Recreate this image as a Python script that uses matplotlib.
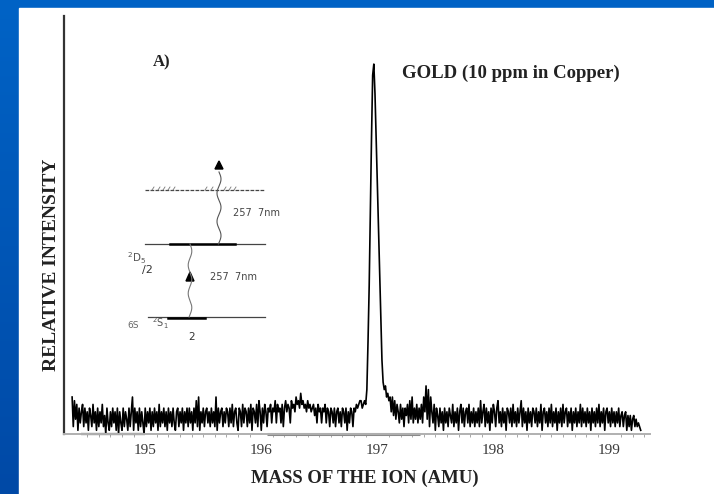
import numpy as np
import matplotlib.pyplot as plt
from matplotlib.patches import Rectangle, Polygon
from matplotlib.colors import LinearSegmentedColormap

# relative intensity (peak = 100), one reading every 0.01 amu
intensity = [
    # 194.37 - 194.86
    10, 2, 9, 4, 8, 1, 7, 3, 6, 8,
    2, 7, 3, 6, 1, 7, 5, 2, 8, 3,
    6, 1, 7, 2, 6, 3, 8, 2, 5, 0,
    7, 3, 1, 6, 2, 7, 3, 6, 1, 7,
    0, 6, 3, 1, 7, 2, 6, 4, 1, 7,
    # 194.87 - 195.36
    2, 6, 10, 1, 7, 3, 6, 1, 7, 2,
    6, 3, 0, 7, 2, 6, 3, 7, 1, 6,
    2, 7, 3, 6, 1, 8, 2, 6, 3, 7,
    2, 6, 1, 7, 3, 6, 2, 7, 3, 1,
    6, 7, 2, 6, 3, 7, 1, 6, 3, 7,
    # 195.37 - 195.86
    2, 7, 3, 6, 1, 7, 3, 9, 2, 10,
    1, 6, 3, 7, 2, 6, 7, 3, 6, 2,
    7, 3, 6, 2, 10, 1, 7, 3, 6, 7,
    2, 6, 3, 7, 6, 2, 7, 3, 8, 2,
    6, 7, 3, 1, 7, 6, 2, 8, 3, 7,
    # 195.87 - 196.36
    6, 2, 7, 3, 8, 1, 7, 6, 3, 8,
    2, 9, 6, 1, 7, 3, 8, 6, 2, 7,
    6, 8, 3, 7, 6, 9, 3, 8, 6, 7,
    3, 8, 2, 7, 9, 6, 8, 7, 3, 9,
    7, 8, 6, 10, 8, 9, 7, 11, 8, 9,
    # 196.37 - 196.86
    7, 8, 6, 9, 7, 8, 6, 7, 8, 5,
    7, 3, 8, 6, 7, 3, 7, 6, 8, 3,
    7, 6, 2, 7, 6, 3, 7, 2, 6, 7,
    3, 6, 2, 7, 6, 3, 7, 1, 6, 3,
    7, 6, 2, 7, 6, 8, 7, 8, 9, 9,
    # 196.87 - 197.36 (gold peak)
    7, 8, 9, 8, 12, 25, 40, 60, 80, 97,
    100, 92, 80, 68, 55, 45, 33, 20, 14, 12,
    13, 10, 11, 9, 10, 6, 10, 5, 9, 4,
    8, 6, 3, 8, 4, 7, 2, 7, 5, 8,
    3, 9, 4, 10, 3, 7, 4, 8, 3, 7,
    # 197.37 - 197.86
    4, 8, 3, 10, 6, 13, 4, 12, 2, 10,
    6, 3, 8, 1, 7, 5, 2, 7, 3, 6,
    1, 7, 3, 6, 2, 7, 5, 3, 8, 2,
    6, 3, 7, 1, 6, 8, 3, 7, 2, 6,
    7, 3, 8, 2, 6, 3, 7, 2, 6, 3,
    # 197.87 - 198.36
    7, 2, 9, 3, 6, 8, 2, 7, 3, 6,
    1, 7, 3, 8, 6, 2, 7, 9, 3, 6,
    2, 7, 3, 6, 1, 7, 6, 3, 7, 2,
    8, 3, 6, 2, 7, 3, 6, 9, 2, 7,
    3, 6, 1, 7, 3, 6, 2, 7, 6, 3,
    # 198.37 - 198.86
    7, 2, 6, 3, 8, 1, 6, 7, 3, 6,
    2, 7, 3, 8, 2, 6, 3, 7, 1, 6,
    3, 7, 2, 8, 3, 6, 7, 2, 6, 3,
    7, 1, 6, 3, 7, 2, 6, 3, 8, 2,
    7, 3, 6, 2, 7, 3, 6, 1, 7, 3,
    # 198.87 - 199.27
    6, 2, 7, 3, 8, 2, 6, 3, 7, 1,
    6, 7, 3, 6, 2, 7, 3, 6, 2, 6,
    3, 7, 2, 5, 6, 2, 5, 6, 1, 5,
    2, 5, 1, 4, 5, 2, 4, 2, 3, 2,
    1,
]
mass_start = 194.37
mass_step = 0.01
masses = mass_start + mass_step * np.arange(len(intensity))

tick_masses = [195, 196, 197, 198, 199]
tick_labels = ['195', '196', '197', '198', '199']

W, H = 714, 494
fig = plt.figure(figsize=(W / 100, H / 100), dpi=100)

# blue slide background + white sheet
bg = fig.add_axes([0, 0, 1, 1])
bg.axis('off')
cmap = LinearSegmentedColormap.from_list('slide', ['#0063c6', '#0049a6'])
bg.imshow(np.linspace(0, 1, 256)[:, None], cmap=cmap, aspect='auto', extent=[0, 1, 0, 1])
bg.set_xlim(0, 1)
bg.set_ylim(0, 1)
bg.add_patch(Rectangle((19 / W, 0), 1, (H - 8) / H, color='white', transform=bg.transAxes))

# spectrum
ax = fig.add_axes([64 / W, (H - 434) / H, 586 / W, 418 / H])
ax.patch.set_alpha(0)
ax.plot(masses, intensity, color='black', lw=1.2)
ax.set_xlim(194.30, 199.35)
ax.set_ylim(0, 113)
ax.spines['top'].set_visible(False)
ax.spines['right'].set_visible(False)
ax.spines['left'].set_linewidth(1.6)
ax.spines['left'].set_color('#333333')
ax.spines['bottom'].set_color('#b0b0b0')
ax.spines['bottom'].set_linewidth(1.4)
# darker stretches of the printed baseline
ax.hlines(0, 194.45, 195.0, color='#444444', lw=1.6, clip_on=False)
ax.hlines(0, 196.05, 197.37, color='#8a8a8a', lw=2.2, clip_on=False)
ax.set_yticks([])
ax.set_xticks(tick_masses, tick_labels)
ax.set_xticks(np.arange(194.5, 199.3, 0.1), minor=True)
ax.tick_params(axis='x', which='major', length=0, pad=7, labelsize=11, labelcolor='#3a3a3a')
ax.tick_params(axis='x', which='minor', length=2, color='#999999')
for t in ax.get_xticklabels():
    t.set_fontfamily('Liberation Serif')

serif = 'Liberation Serif'
fig.text(365 / W, 1 - 478 / H, 'MASS OF THE ION (AMU)', ha='center', va='center',
         fontfamily=serif, fontweight='bold', fontsize=13.5, color='#222222')
fig.text(52 / W, 1 - 265 / H, 'RELATIVE INTENSITY', ha='center', va='center', rotation=90,
         fontfamily=serif, fontweight='bold', fontsize=14, color='#222222')
fig.text(402 / W, 1 - 73 / H, 'GOLD (10 ppm in Copper)', ha='left', va='center',
         fontfamily=serif, fontweight='bold', fontsize=13.5, color='#222222')
fig.text(162 / W, 1 - 62 / H, 'A)', ha='center', va='center',
         fontfamily=serif, fontweight='bold', fontsize=12, color='#222222')

# energy level sketch, drawn in pixel coordinates
ov = fig.add_axes([0, 0, 1, 1])
ov.axis('off')
ov.set_xlim(0, W)
ov.set_ylim(H, 0)

ov.plot([145, 265], [190, 190], color='#444444', lw=0.9, ls=(0, (3, 1)))
for hx in [152, 158, 163, 168, 173, 205, 211, 224, 229, 234]:
    ov.plot([hx, hx + 2], [190, 187], color='#777777', lw=0.6)
ov.plot([145, 265], [244, 244], color='#444444', lw=0.9)
ov.plot([170, 235], [244, 244], color='black', lw=1.8)
ov.plot([148, 265], [317, 317], color='#444444', lw=0.9)
ov.plot([168, 205], [318, 318], color='black', lw=1.8)

yy = np.linspace(172, 244, 200)
ov.plot(219 + 2 * np.sin((yy - 172) / 4.5), yy, color='#555555', lw=0.8)
ov.add_patch(Polygon([[215, 169], [223, 169], [219, 161]], closed=True, color='black'))
yy = np.linspace(244, 317, 200)
ov.plot(190 + 1.8 * np.sin((yy - 244) / 4.5), yy, color='#777777', lw=0.8)
ov.add_patch(Polygon([[186, 281], [194, 281], [190, 272]], closed=True, color='black'))

sans = 'DejaVu Sans'
ov.text(233, 213, '257  7nm', fontsize=7, fontfamily=sans, va='center', color='#444444')
ov.text(210, 277, '257  7nm', fontsize=7, fontfamily=sans, va='center', color='#444444')
ov.text(127, 258, r'$^2$D$_{5}$', fontsize=7.5, va='center', color='#555555')
ov.text(142, 270, '/2', fontsize=8, va='center', color='#333333')
ov.text(127, 325, '6S', fontsize=6.5, va='center', color='#666666')
ov.text(152, 323, r'$^2$S$_{1}$', fontsize=7, va='center', color='#555555')
ov.text(188, 337, '2', fontsize=7.5, va='center', color='#333333')

fig.savefig('out.png', dpi=100)
